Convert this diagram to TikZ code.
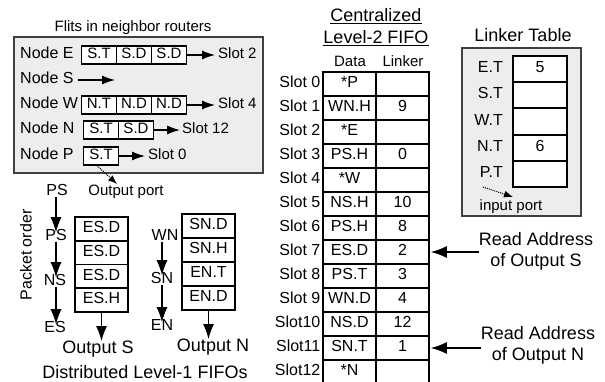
\documentclass[tikz,border=0pt]{standalone}
\usepackage{fontspec}
\setmainfont{Liberation Sans}
\usetikzlibrary{arrows.meta}
\begin{document}
\begin{tikzpicture}[x=1pt,y=-1pt,
  lbl/.style={inner sep=0pt, text height=0.72em, text depth=0pt, font=\fontsize{16}{19}\selectfont},
  sm/.style={inner sep=0pt, text height=0.72em, text depth=0pt, font=\fontsize{15}{18}\selectfont},
  ttl/.style={inner sep=0pt, text height=0.72em, text depth=0pt, font=\fontsize{18}{21}\selectfont},
  gbox/.style={draw=black!75, fill=black!7, line width=1.1pt, inner sep=0pt},
  flit/.style={draw, fill=white, line width=1.4pt, minimum width=35pt, minimum height=18pt, inner sep=0pt, text height=0.72em, text depth=0pt, font=\fontsize{15}{18}\selectfont},
  fifo/.style={draw, line width=1.9pt, minimum width=53pt, minimum height=23.8pt, inner sep=0pt, text height=0.72em, text depth=0pt, font=\fontsize{16}{19}\selectfont},
  cell/.style={draw, line width=1.9pt, minimum width=53pt, minimum height=24pt, inner sep=0pt, text height=0.72em, text depth=0pt, font=\fontsize{16}{19}\selectfont},
  lcell/.style={draw, fill=white, line width=1.9pt, minimum width=54pt, minimum height=26.2pt, inner sep=0pt, text height=0.72em, text depth=0pt, font=\fontsize{16}{19}\selectfont},
  arr/.style={-{Latex[length=13pt,width=9pt]}, line width=1.1pt},
  varr/.style={-{Latex[length=15pt,width=11pt]}, line width=1.1pt},
  rarr/.style={-{Latex[length=16pt,width=12pt]}, line width=1.1pt},
  dotarr/.style={-{Latex[length=9pt,width=7pt]}, densely dotted, line width=1pt}
]
\useasboundingbox (0,0) rectangle (605,382);

% ---------- Flits in neighbor routers ----------
\node[sm] (nbrt) at (133,28) {Flits in neighbor routers};
\node[gbox, minimum width=249pt, minimum height=136pt] (nbr) at (138.5,105) {};

\node[lbl, anchor=west] (ne) at (20,55) {Node E};
\node[lbl, anchor=west] (ns) at (20,80) {Node S};
\node[lbl, anchor=west] (nw) at (20,105) {Node W};
\node[lbl, anchor=west] (nn) at (20,130) {Node N};
\node[lbl, anchor=west] (np) at (20,156) {Node P};

\node[flit] (e1) at (99,55) {S.T};
\node[flit] (e2) at (134,55) {S.D};
\node[flit] (e3) at (169,55) {S.D};
\node[flit] (w1) at (99,105) {N.T};
\node[flit] (w2) at (134,105) {N.D};
\node[flit] (w3) at (169,105) {N.D};
\node[flit] (n1) at (101,130) {S.T};
\node[flit] (n2) at (136,130) {S.D};
\node[flit] (p1) at (101,156) {S.T};

\node[sm, anchor=west] (se) at (218,55) {Slot 2};
\node[sm, anchor=west] (sw) at (218,105) {Slot 4};
\node[sm, anchor=west] (sn) at (182,130) {Slot 12};
\node[sm, anchor=west] (sp) at (148,156) {Slot 0};

\draw[arr] (e3.east) -- ([xshift=-3pt]se.west);
\draw[arr] (w3.east) -- ([xshift=-3pt]sw.west);
\draw[arr] (n2.east) -- ([xshift=-2pt]sn.west);
\draw[arr] (p1.east) -- ([xshift=-3pt]sp.west);
\coordinate (nsend) at (115,80);
\draw[arr] ([xshift=4pt]ns.east) -- (nsend);

\coordinate (optip) at (117,184);
\draw[dotarr] ([xshift=-4pt]p1.south) -- (optip);
\node[sm] (op) at (126,192) {Output port};

% ---------- Distributed Level-1 FIFOs ----------
\node[lbl, rotate=90] (po) at (28,255) {Packet order};
\node[lbl, inner sep=1pt] (ps1) at (57,192) {PS};
\node[lbl, inner sep=1pt] (ps2) at (56,237) {PS};
\node[lbl, inner sep=1pt] (ns1) at (55,282) {NS};
\node[lbl, inner sep=1pt] (es1) at (55,329) {ES};
\draw[varr] (ps1.south -| ps2) -- (ps2.north);
\draw[varr] (ps2.south) -- (ns1.north -| ps2);
\draw[varr] (ns1.south -| ps2) -- (es1.north -| ps2);

\node[fifo] (f1) at (101.5,228.9) {ES.D};
\node[fifo] (f2) at (101.5,252.6) {ES.D};
\node[fifo] (f3) at (101.5,276.4) {ES.D};
\node[fifo] (f4) at (101.5,300.1) {ES.H};
\coordinate (ostip) at (101.5,341);
\draw[varr] (f4.south) -- (ostip);
\node[ttl] (outs) at (98,350) {Output S};

\node[lbl, inner sep=1pt] (wn1) at (165,237) {WN};
\node[lbl, inner sep=1pt] (sn1) at (162,280) {SN};
\node[lbl, inner sep=1pt] (en1) at (162,327) {EN};
\draw[varr] (wn1.south -| sn1) -- (sn1.north);
\draw[varr] (sn1.south) -- (en1.north);

\node[fifo] (g1) at (208.5,226) {SN.D};
\node[fifo] (g2) at (208.5,250) {SN.H};
\node[fifo] (g3) at (208.5,274) {EN.T};
\node[fifo] (g4) at (208.5,298) {EN.D};
\coordinate (ontip) at (208.5,339);
\draw[varr] (g4.south) -- (ontip);
\node[ttl] (outn) at (213,348) {Output N};

\node[ttl] (dist) at (145,375) {Distributed Level-1 FIFOs};

% ---------- Centralized Level-2 FIFO ----------
\node[ttl] (ct1) at (376,18) {\underline{Centralized}};
\node[ttl] (ct2) at (376,40) {\underline{Level-2 FIFO}};
\node[sm] (hd) at (350,63) {Data};
\node[sm] (hl) at (403,63) {Linker};

\foreach \k/\dv/\lv/\sl in {0/{*P}/{}/{Slot 0},1/{WN.H}/{9}/{Slot 1},2/{*E}/{}/{Slot 2},3/{PS.H}/{0}/{Slot 3},4/{*W}/{}/{Slot 4},5/{NS.H}/{10}/{Slot 5},6/{PS.H}/{8}/{Slot 6},7/{ES.D}/{2}/{Slot 7},8/{PS.T}/{3}/{Slot 8},9/{WN.D}/{4}/{Slot 9},10/{NS.D}/{12}/{Slot10},11/{SN.T}/{1}/{Slot11},12/{*N}/{}/{Slot12}}{
  \node[cell] (d\k) at (349.5,84+24*\k) {\dv};
  \node[cell] (l\k) at (402.5,84+24*\k) {\lv};
  \node[lbl, anchor=east] (s\k) at (320.5,84+24*\k) {\sl};
}

\node[ttl] (ra1) at (536,242) {Read Address};
\node[ttl] (ra2) at (536,263) {of Output S};
\draw[rarr] (ra1.west |- l7.east) -- ([xshift=1pt]l7.east);
\node[ttl] (ra3) at (538,336) {Read Address};
\node[ttl] (ra4) at (538,357) {of Output N};
\draw[rarr] (ra3.west |- l11.east) -- ([xshift=1pt]l11.east);

% ---------- Linker Table ----------
\node[ttl] (lt) at (523,38) {Linker Table};
\node[gbox, minimum width=119pt, minimum height=168pt] (ltb) at (521.5,132) {};
\foreach \k/\nm/\val in {0/{E.T}/{5},1/{S.T}/{},2/{W.T}/{},3/{N.T}/{6},4/{P.T}/{}}{
  \node[lcell] (c\k) at (540,69.1+26.2*\k) {\val};
  \node[lbl, anchor=east] (t\k) at (503,69.1+26.2*\k) {\nm};
}
\coordinate (ipstart) at (483,187);
\coordinate (iptip) at (513,197);
\draw[dotarr] (ipstart) -- (iptip);
\node[sm] (ip) at (511,207) {input port};
\end{tikzpicture}
\end{document}
